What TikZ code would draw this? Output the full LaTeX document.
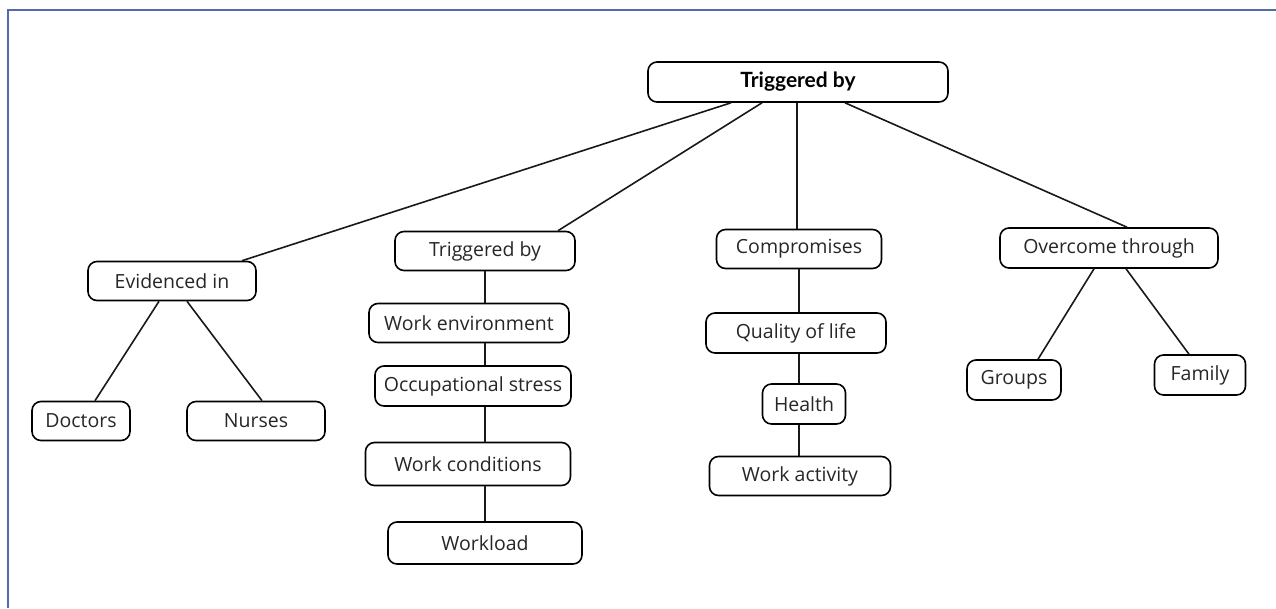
\documentclass[tikz,border=0pt]{standalone}
\usepackage{fontspec}
\setmainfont{Open Sans}
\newfontfamily\headfont{Lato}
\definecolor{framecol}{RGB}{85,105,175}

\begin{document}
\begin{tikzpicture}[
		x=1pt, y=-1pt,
		b/.style = {rectangle, draw=black, rounded corners=9pt, line width=1.6pt, minimum height=39pt,
			inner sep=0pt, text=black!85, font=\fontsize{19.5}{23}\selectfont},
		h/.style = {b, minimum height=40pt, text=black, font=\headfont\bfseries\fontsize{21}{25}\selectfont},
		l/.style = {line width=1.6pt, black!90},
		f/.style = {line width=1.5pt, framecol}
		]
		
		\useasboundingbox (0,0) rectangle (1276,608);
		\draw[f]	(1276,10) -| (8,608);
		
		%Nodes
		\node[h, minimum width=300]	(top)		at	(798, 82)	{Triggered by};
		\node[b, minimum width=168]	(evid)		at	(172, 281)	{Evidenced in};
		\node[b, minimum width=98]	(doctors)	at	(81, 421)	{Doctors};
		\node[b, minimum width=138]	(nurses)	at	(256, 421)	{Nurses};
		\node[b, minimum width=180]	(trig)		at	(485, 251)	{Triggered by};
		\node[b, minimum width=200]	(workenv)	at	(469, 323)	{Work environment};
		\node[b, minimum width=196, minimum height=40]	(occstress)	at	(473, 386)	{Occupational stress};
		\node[b, minimum width=205, minimum height=43]	(workcond)	at	(468, 464)	{Work conditions};
		\node[b, minimum width=194, minimum height=42]	(workload)	at	(485, 543)	{Workload};
		\node[b, minimum width=165]	(comp)		at	(799, 249)	{Compromises};
		\node[b, minimum width=180, minimum height=40]	(quality)	at	(796, 333)	{Quality of life};
		\node[b, minimum width=83, minimum height=40]	(health)	at	(804, 404)	{Health};
		\node[b, minimum width=181]	(workact)	at	(800, 476)	{Work activity};
		\node[b, minimum width=218, minimum height=40]	(overcome)	at	(1109, 248)	{Overcome through};
		\node[b, minimum width=94, minimum height=40]	(groups)	at	(1014, 380)	{Groups};
		\node[b, minimum width=91, minimum height=40]	(family)	at	(1200, 375)	{Family};
		
		%Lines
		\draw[l]	([xshift=-67]top.south)	--	([xshift=70]evid.north);
		\draw[l]	([xshift=-36]top.south)	--	([xshift=73]trig.north);
		\draw[l]	([xshift=-1]top.south)	--	([xshift=-2]comp.north);
		\draw[l]	([xshift=47]top.south)	--	([xshift=18]overcome.north);
		\draw[l]	([xshift=-13]evid.south)	--	([xshift=14]doctors.north);
		\draw[l]	([xshift=15]evid.south)	--	([xshift=6]nurses.north);
		\draw[l]	(trig.south)	--	(trig.south |- workenv.north);
		\draw[l]	(trig.south |- workenv.south)	--	(trig.south |- occstress.north);
		\draw[l]	(trig.south |- occstress.south)	--	(trig.south |- workcond.north);
		\draw[l, line width=2pt]	([xshift=17]workcond.south)	--	(workload.north);
		\draw[l]	(comp.south)	--	(comp.south |- quality.north);
		\draw[l]	(comp.south |- quality.south)	--	(comp.south |- health.north);
		\draw[l]	(comp.south |- health.south)	--	(comp.south |- workact.north);
		\draw[l]	([xshift=-15]overcome.south)	--	([xshift=24]groups.north);
		\draw[l]	([xshift=17]overcome.south)	--	([xshift=-11]family.north);
	\end{tikzpicture}
\end{document}
